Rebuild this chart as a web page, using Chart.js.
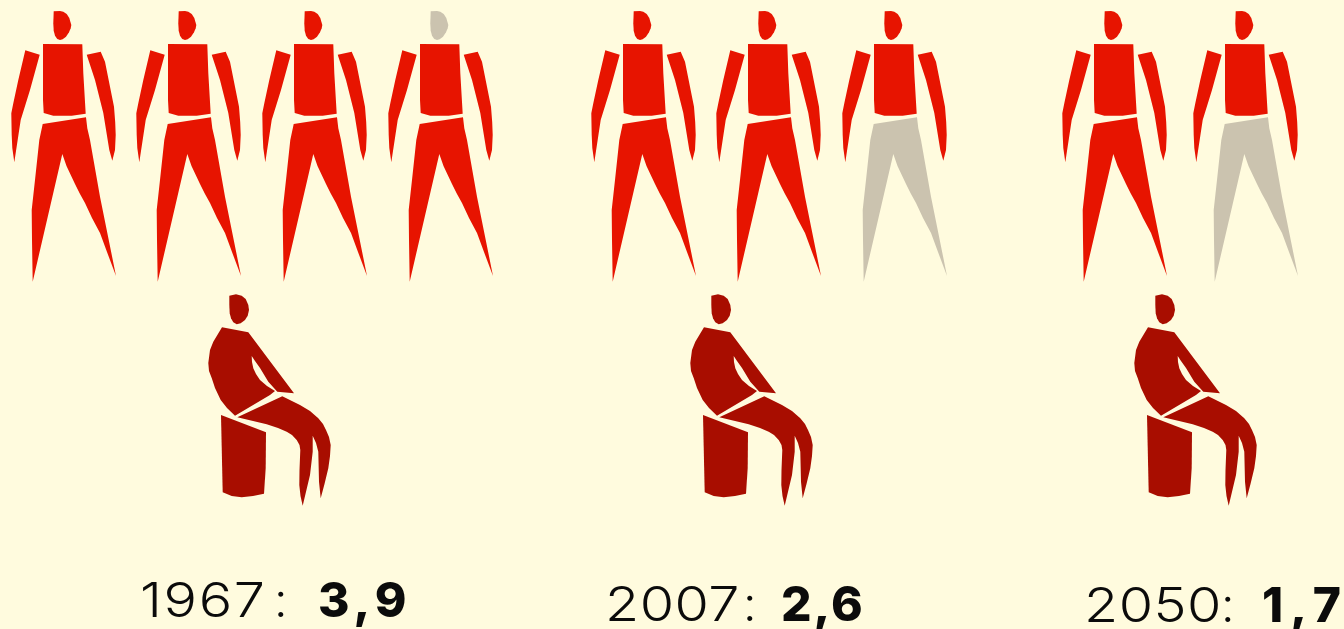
<!DOCTYPE html>
<html><head><meta charset="utf-8">
<script src="https://cdn.jsdelivr.net/npm/chart.js@4/dist/chart.umd.min.js"></script>
<style>html,body{margin:0;padding:0;background:#FFFBDE;overflow:hidden}canvas{display:block}</style>
</head><body><canvas id="c" width="1344" height="629"></canvas>
<script>
// ---- data ----
const years = ['1967', '2007', '2050'];
const workersPerRetiree = [3.9, 2.6, 1.7];
const retirees = [1, 1, 1];
const greyPart = ['head', 'legs', 'legs'];   // part of the last figure standing for the missing fraction
const valueLabels = ['3,9', '2,6', '1,7'];

// ---- layout ----
const groupX = [0, 580, 1051];
const workerStep = [[0, 125, 251, 377], [0, 125, 251], [0, 131]];
const seatedX = [270, 752, 1196];
const labelPos = [
  { x: 140, c: 274, b: 318, y: 617, ys: 1.4, bs: 5 },
  { x: 605, c: 743, b: 781, y: 621, ys: 0.4, bs: 2 },
  { x: 1084, c: 1221, b: 1262, y: 622, ys: 0.4, bs: 7 }
];
const COL = { red: '#E71400', dark: '#A80D00', grey: '#CBC3AF', ink: '#0B0B0B' };

// ---- pictogram glyphs (icon outlines, in glyph-local units) ----
const G = {
  head: [[53.7,11.3],[60,11],[63.3,11.7],[66.7,14],[69.3,18],[71.3,25],[70.7,28.3],[69,32.3],[66,36.7],[62.7,39.3],[60,40],[57.3,39],[55,35.7],[53.7,30.7],[53.3,23.3]],
  torso: [[43,44],[82.3,44.3],[83.3,73],[85.7,113.7],[71.7,115.7],[53.3,115.7],[43.7,113],[43,100]],
  armL: [[25.3,50.3],[39.7,54.7],[30,90],[20.7,120],[14.3,162.3],[12.3,148],[11.7,135],[11.3,113.3],[13.3,103.3],[18.3,80]],
  armR: [[86.7,54.7],[100.7,51.7],[105,61.7],[110,86.7],[114,106.7],[115.2,122],[115.7,135],[115,150],[112.3,160.7],[109.3,150],[103.3,113],[95,80]],
  legs: [[42.7,124],[86,117.3],[87.3,128.3],[90,140],[100,196.7],[116,276],[107,252],[100,233],[92,218],[85,203],[80,194],[75,184],[71.7,177],[66.5,166],[62.3,154],[32.7,281.7],[32,240],[31.7,210],[35,180],[39.3,140]]
};
const S = {
  head: [[229.3,295.7],[236,294.3],[241.7,295.7],[245.7,299],[248.3,305],[249,310],[247.7,315.7],[245,320],[240.7,323.3],[236.7,324.3],[233.3,322.3],[231,318.3],[229.7,313.3],[229.3,305]],
  body: [[222,327.3],[248.3,332.3],[294,393.3],[277.3,391.7],[268.3,381.7],[260,368],[255,361],[251.7,356],[252,362],[253.3,368.3],[256,374],[260,380],[267,386],[275,391],[270,395],[235,415.7],[227,408],[220.7,400],[215,388],[211.7,378],[209,371],[208.3,363],[210,350],[213.3,341.7]],
  chair: [[221,415],[266,432.3],[265.7,468],[264,493.7],[253,496],[241.7,497.3],[231.7,496],[222.7,492.3]],
  legs: [[237.3,417.3],[282.3,396.3],[300,405],[310,411],[318.3,418.3],[323,424],[326,430],[329,437],[330.7,445],[330,456],[328.3,468.3],[324.5,484],[320.7,498.3],[319,481.7],[318.3,451.7],[316,443],[312.7,435.7],[312.7,451.7],[310,475],[302.7,505.7],[300.5,496],[299.3,485],[299.5,470],[300.3,450],[299.5,445],[296.7,440],[292,435],[286.7,431.7],[278,428],[266.7,424.3]]
};

function poly(ctx, pts, fill) {
  ctx.fillStyle = fill; ctx.beginPath();
  pts.forEach((p, i) => i ? ctx.lineTo(p[0], p[1]) : ctx.moveTo(p[0], p[1]));
  ctx.closePath(); ctx.fill();
}
function workerGlyph(grey) {
  const cv = document.createElement('canvas'); cv.width = 130; cv.height = 290;
  const ctx = cv.getContext('2d');
  poly(ctx, G.head, grey === 'head' ? COL.grey : COL.red);
  ['torso', 'armL', 'armR'].forEach(k => poly(ctx, G[k], COL.red));
  poly(ctx, G.legs, grey === 'legs' ? COL.grey : COL.red);
  return cv;
}
function seatedGlyph() {
  const cv = document.createElement('canvas'); cv.width = 140; cv.height = 230;
  const ctx = cv.getContext('2d'); ctx.translate(-200, -285);
  Object.values(S).forEach(p => poly(ctx, p, COL.dark));
  return cv;
}

const fullW = workerGlyph(null), seated = seatedGlyph();
const workerPts = [], workerStyles = [];
years.forEach((y, g) => {
  const n = Math.ceil(workersPerRetiree[g]);
  for (let i = 0; i < n; i++) {
    workerPts.push({ x: groupX[g] + workerStep[g][i] + 65, y: 145 });
    workerStyles.push(i === n - 1 ? workerGlyph(greyPart[g]) : fullW);
  }
});
const seatedPts = [];
years.forEach((y, g) => { for (let i = 0; i < retirees[g]; i++) seatedPts.push({ x: seatedX[g], y: 400 }); });

const labelPlugin = {
  id: 'labels',
  afterDraw(chart) {
    const { ctx, scales: { x, y } } = chart;
    ctx.save(); ctx.fillStyle = COL.ink; ctx.textBaseline = 'alphabetic'; ctx.textAlign = 'left';
    years.forEach((yr, i) => {
      const p = labelPos[i], py = y.getPixelForValue(p.y);
      ctx.font = '300 48px Inter';
      ctx.save();
      ctx.translate(x.getPixelForValue(p.x), py); ctx.scale(1.16, 1);
      ctx.letterSpacing = p.ys + 'px';
      ctx.fillText(yr, 0, 0);
      ctx.restore();
      ctx.letterSpacing = '0px';
      ctx.fillText(':', x.getPixelForValue(p.c), py);
      ctx.font = '800 48px Inter'; ctx.letterSpacing = p.bs + 'px';
      ctx.fillText(valueLabels[i], x.getPixelForValue(p.b), py);
      ctx.letterSpacing = '0px';
    });
    ctx.restore();
  }
};

new Chart(document.getElementById('c'), {
  type: 'scatter',
  data: { datasets: [
    { label: 'Workers', data: workerPts, pointStyle: workerStyles, pointRadius: 10, showLine: false },
    { label: 'Retirees', data: seatedPts, pointStyle: seated, pointRadius: 10, showLine: false }
  ] },
  options: {
    responsive: false, animation: false, layout: { padding: 0, autoPadding: false },
    plugins: { legend: { display: false }, tooltip: { enabled: false } },
    scales: {
      x: { type: 'linear', display: false, min: 0, max: 1344 },
      y: { type: 'linear', display: false, min: 0, max: 629, reverse: true }
    }
  },
  plugins: [labelPlugin]
});
</script></body></html>
